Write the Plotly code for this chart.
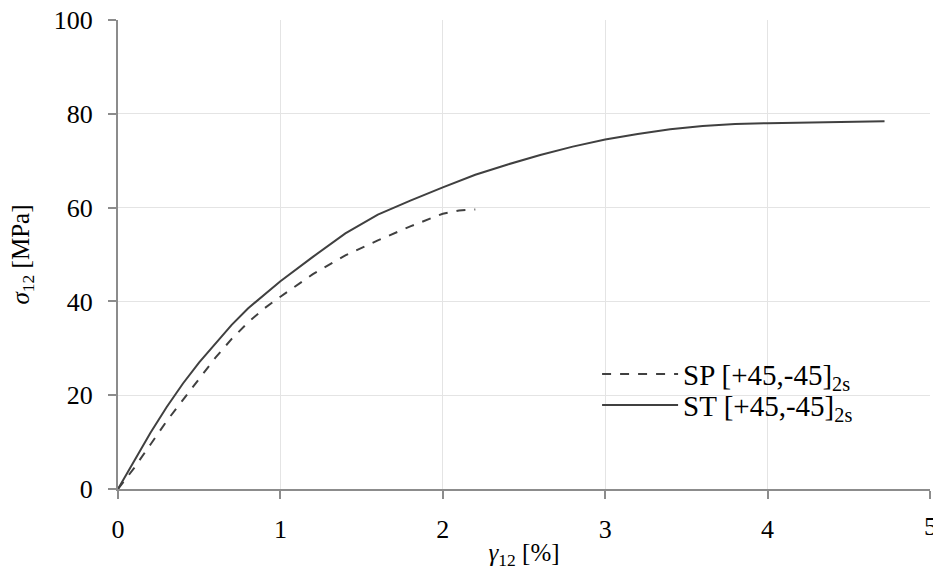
import plotly.graph_objects as go

st_x = [0, 0.1, 0.2, 0.3, 0.4, 0.5, 0.6, 0.7, 0.8, 0.9, 1.0, 1.2, 1.4, 1.6, 1.8, 2.0, 2.2, 2.4, 2.6, 2.8, 3.0, 3.2, 3.4, 3.6, 3.8, 4.0, 4.3, 4.72]
st_y = [0, 6, 12, 17.5, 22.5, 27, 31, 35, 38.5, 41.5, 44.3, 49.5, 54.5, 58.5, 61.5, 64.3, 67, 69.2, 71.2, 73, 74.5, 75.7, 76.7, 77.4, 77.8, 78, 78.2, 78.4]

sp_x = [0, 0.1, 0.2, 0.3, 0.4, 0.5, 0.6, 0.7, 0.8, 0.9, 1.0, 1.2, 1.4, 1.6, 1.8, 2.0, 2.1, 2.2]
sp_y = [0, 4.5, 9.5, 14.5, 19, 23.5, 28, 32, 35.5, 38.5, 41, 45.8, 49.8, 53, 56, 58.7, 59.4, 59.6]

x_ticks = [0, 1, 2, 3, 4, 5]
y_ticks = [0, 20, 40, 60, 80, 100]

font = "Liberation Serif, Times New Roman, serif"
line_col = "#404040"

fig = go.Figure()
fig.add_trace(go.Scatter(x=sp_x, y=sp_y, mode="lines", name="SP [+45,-45]<sub>2s</sub>",
                         line=dict(color=line_col, width=2, dash="dash"), legend="legend"))
fig.add_trace(go.Scatter(x=st_x, y=st_y, mode="lines", name="ST [+45,-45]<sub>2s</sub>",
                         line=dict(color=line_col, width=2), legend="legend2"))

leg_common = dict(xanchor="left", yanchor="middle", bgcolor="rgba(0,0,0,0)",
                  font=dict(size=29, family=font), itemwidth=76)

fig.update_layout(
    width=933, height=572,
    margin=dict(l=118, r=3, t=20, b=83),
    paper_bgcolor="white", plot_bgcolor="white",
    font=dict(family=font, size=26, color="#000"),
    showlegend=True,
    legend=dict(x=0.59, y=0.245, **leg_common),
    legend2=dict(x=0.59, y=0.179, **leg_common),
    xaxis=dict(range=[0, 5], tickvals=x_ticks, showgrid=True, gridcolor="#e4e4e4", gridwidth=1,
               showline=True, linecolor="#8c8c8c", linewidth=2, ticks="outside", ticklen=8,
               tickcolor="#8c8c8c", tickwidth=1.5, zeroline=False, automargin=False,
               title=dict(text="<i>γ</i><sub>12</sub> [%]", standoff=0, font=dict(size=25)),
               tickfont=dict(size=26), ticklabelstandoff=8),
    yaxis=dict(range=[0, 100], tickvals=y_ticks, showgrid=True, gridcolor="#e4e4e4", gridwidth=1,
               showline=True, linecolor="#8c8c8c", linewidth=2, ticks="outside", ticklen=8,
               tickcolor="#8c8c8c", tickwidth=1.5, zeroline=False, automargin=False,
               title=dict(text="<i>σ</i><sub>12</sub> [MPa]", standoff=17, font=dict(size=25)),
               tickfont=dict(size=26), ticklabelstandoff=10),
)

# last x tick label, which plotly drops because it overflows the right edge
fig.add_annotation(x=x_ticks[-1], xref="x", y=-0.081, yref="paper", text=str(x_ticks[-1]),
                   showarrow=False, xanchor="center", yanchor="middle",
                   font=dict(size=26, family=font, color="#000"))

fig.write_html("out.html", post_script="document.body.style.margin='0';",
               config={"displayModeBar": False})
